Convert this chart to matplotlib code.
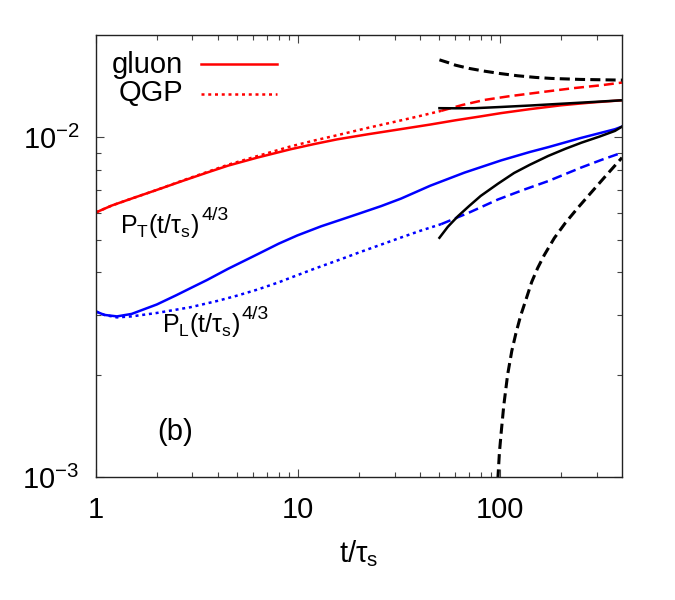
import numpy as np
import matplotlib
matplotlib.use("Agg")
import matplotlib.pyplot as plt
import matplotlib.transforms as mtransforms
from matplotlib.ticker import FixedLocator, FixedFormatter, NullFormatter

plt.rcParams['font.family'] = ['Liberation Sans', 'DejaVu Sans']
plt.rcParams['mathtext.fontset'] = 'custom'
plt.rcParams['mathtext.rm'] = 'Liberation Sans'
plt.rcParams['mathtext.it'] = 'Liberation Sans'
plt.rcParams['mathtext.default'] = 'regular'

# ---- data (t/tau_s, pressure * (t/tau_s)^{4/3}) ----
t_gluon_T = [1, 1.2, 1.5, 2, 2.7, 3.54, 4.5, 6.27, 9.18, 12, 15.6, 22, 32,
             45, 60, 80, 101, 140, 200, 280, 400]
P_gluon_T = [6.01e-3, 6.3e-3, 6.6e-3, 7.0e-3, 7.45e-3, 7.87e-3, 8.25e-3,
             8.71e-3, 9.22e-3, 9.55e-3, 9.86e-3, 10.2e-3, 10.56e-3, 10.9e-3,
             11.22e-3, 11.52e-3, 11.78e-3, 12.1e-3, 12.42e-3, 12.65e-3, 12.85e-3]

t_qgp_T = [1, 1.2, 1.5, 2, 2.7, 3.54, 4.5, 6.27, 9.18, 12, 15.6, 22, 32, 40, 51]
P_qgp_T = [6.01e-3, 6.3e-3, 6.6e-3, 7.0e-3, 7.47e-3, 7.9e-3, 8.3e-3, 8.8e-3,
           9.4e-3, 9.78e-3, 10.14e-3, 10.65e-3, 11.2e-3, 11.55e-3, 11.96e-3]

t_hydro_T = [51, 65, 83.6, 110, 163, 230, 317, 400]
P_hydro_T = [11.96e-3, 12.45e-3, 12.88e-3, 13.2e-3, 13.6e-3, 13.95e-3,
             14.23e-3, 14.49e-3]

t_gluon_L = [1, 1.1, 1.27, 1.5, 2, 2.5, 3, 3.54, 4.5, 6.27, 8, 9.9, 13, 16,
             20, 25.7, 32.3, 45, 66.5, 101, 140, 172.5, 250, 369, 400]
P_gluon_L = [3.07e-3, 3.0e-3, 2.97e-3, 3.02e-3, 3.22e-3, 3.43e-3, 3.62e-3,
             3.8e-3, 4.1e-3, 4.52e-3, 4.86e-3, 5.14e-3, 5.47e-3, 5.7e-3,
             5.96e-3, 6.27e-3, 6.6e-3, 7.2e-3, 7.87e-3, 8.55e-3, 9.05e-3,
             9.35e-3, 9.95e-3, 10.56e-3, 10.75e-3]

t_qgp_L = [1, 1.1, 1.27, 1.5, 2, 2.93, 4, 5, 6.27, 8, 9.18, 12, 16, 20, 25.7,
           32.3, 40, 51]
P_qgp_L = [3.07e-3, 3.0e-3, 2.95e-3, 2.97e-3, 3.04e-3, 3.16e-3, 3.3e-3,
           3.42e-3, 3.56e-3, 3.74e-3, 3.86e-3, 4.1e-3, 4.36e-3, 4.58e-3,
           4.83e-3, 5.07e-3, 5.3e-3, 5.55e-3]

t_hydro_L = [51, 70, 97.4, 130, 172.5, 252, 320, 400]
P_hydro_L = [5.55e-3, 6.0e-3, 6.56e-3, 7.0e-3, 7.43e-3, 8.15e-3, 8.6e-3, 9.01e-3]

# black reference curves (from t = 50)
t_blk_sol_T = [50, 60, 75, 101, 140, 200, 300, 400]
P_blk_sol_T = [12.18e-3, 12.17e-3, 12.18e-3, 12.28e-3, 12.4e-3, 12.55e-3,
               12.72e-3, 12.85e-3]
t_blk_dash_T = [50, 55, 60, 70, 83.6, 100, 122, 150, 179, 250, 400]
P_blk_dash_T = [16.9e-3, 16.6e-3, 16.3e-3, 15.95e-3, 15.65e-3, 15.4e-3,
                15.17e-3, 15.0e-3, 14.9e-3, 14.8e-3, 14.73e-3]
t_blk_sol_L = [50, 55, 61.6, 70, 80, 97.4, 117, 140, 172.5, 210, 252, 310,
               369, 400]
P_blk_sol_L = [5.06e-3, 5.45e-3, 5.85e-3, 6.27e-3, 6.72e-3, 7.3e-3, 7.85e-3,
               8.3e-3, 8.81e-3, 9.25e-3, 9.64e-3, 10.05e-3, 10.44e-3, 10.75e-3]
t_blk_dash_L = [95, 97.4, 99, 101, 104, 108.7, 114, 119.5, 126, 134, 143, 153,
                165, 185, 210, 242, 280, 330, 400]
P_blk_dash_L = [0.8e-3, 1.0e-3, 1.18e-3, 1.35e-3, 1.62e-3, 2.0e-3, 2.35e-3,
                2.65e-3, 2.98e-3, 3.33e-3, 3.75e-3, 4.12e-3, 4.5e-3, 5.05e-3,
                5.6e-3, 6.2e-3, 6.85e-3, 7.66e-3, 8.71e-3]

x_major = [1, 10, 100]
x_major_labels = ['1', '10', '100']
y_major = [1e-3, 1e-2]
y_major_labels = [r'10$^{-3}$', r'10$^{-2}$']

# ---- figure ----
fig = plt.figure(figsize=(6.75, 6.0), dpi=100)
ax = fig.add_axes([96/675, (600-477)/600, 526/675, 442/600])

lw = 1.8
lwd = 2.2
dot = (0, (1.2, 1.5))
dash = (0, (4.0, 2.0))
dashk = (0, (3.3, 1.7))

ax.plot(t_gluon_T, P_gluon_T, color='#ff0000', lw=lw)
ax.plot(t_qgp_T, P_qgp_T, color='#ff0000', lw=lw, ls=dot)
ax.plot(t_hydro_T, P_hydro_T, color='#ff0000', lw=lw, ls=dash)
ax.plot(t_gluon_L, P_gluon_L, color='#0000ff', lw=lw)
ax.plot(t_qgp_L, P_qgp_L, color='#0000ff', lw=lw, ls=dot)
ax.plot(t_hydro_L, P_hydro_L, color='#0000ff', lw=lw, ls=dash)
ax.plot(t_blk_sol_T, P_blk_sol_T, color='black', lw=lw)
ax.plot(t_blk_dash_T, P_blk_dash_T, color='black', lw=lwd, ls=dashk)
ax.plot(t_blk_sol_L, P_blk_sol_L, color='black', lw=lw)
ax.plot(t_blk_dash_L, P_blk_dash_L, color='black', lw=lwd, ls=dashk)

ax.set_xscale('log')
ax.set_yscale('log')
ax.set_xlim(1, 400)
ax.set_ylim(1e-3, 2e-2)

ax.xaxis.set_major_locator(FixedLocator(x_major))
ax.xaxis.set_major_formatter(FixedFormatter(x_major_labels))
ax.xaxis.set_minor_locator(FixedLocator([2, 3, 4, 5, 6, 7, 8, 9, 20, 30, 40, 50,
                                          60, 70, 80, 90, 200, 300]))
ax.xaxis.set_minor_formatter(NullFormatter())
ax.yaxis.set_major_locator(FixedLocator(y_major))
ax.yaxis.set_major_formatter(FixedFormatter(y_major_labels))
ax.yaxis.set_minor_locator(FixedLocator([2e-3, 3e-3, 4e-3, 5e-3, 6e-3, 7e-3,
                                          8e-3, 9e-3]))
ax.yaxis.set_minor_formatter(NullFormatter())

ax.tick_params(which='both', direction='in', top=True, right=True,
               color='#444444', width=0.8, labelsize=21)
ax.tick_params(which='major', length=6)
ax.tick_params(which='minor', length=3.5)
ax.tick_params(axis='x', which='major', pad=14)
ax.tick_params(axis='y', which='major', pad=12)
for s in ax.spines.values():
    s.set_linewidth(1.0)
    s.set_color('#222222')

ax.set_xlabel(r't/$\tau_s$', fontsize=21, labelpad=10)

# key
tr = ax.transAxes
ax.text(0.165, 0.932, 'gluon', transform=tr, fontsize=21, ha='right', va='center')
ax.text(0.165, 0.868, 'QGP', transform=tr, fontsize=21, ha='right', va='center')
ax.plot([0.20, 0.344], [0.934, 0.934], transform=tr, color='#ff0000', lw=lw)
ax.plot([0.20, 0.344], [0.866, 0.866], transform=tr, color='#ff0000', lw=lw, ls=dot)

# curve labels with larger (gnuplot-like) superscripts
fig.canvas.draw()
renderer = fig.canvas.get_renderer()
for (x0, y0, base) in [(0.046, 0.552, r'P$_T$(t/$\tau_s$)'),
                       (0.125, 0.328, r'P$_L$(t/$\tau_s$)')]:
    tb = ax.text(x0, y0, base, transform=tr, fontsize=18, ha='left',
                 va='baseline')
    w = tb.get_window_extent(renderer=renderer).width
    off = mtransforms.offset_copy(tr, fig=fig, x=w + 2, y=13, units='dots')
    ax.text(x0, y0, '4/3', transform=off, fontsize=14, ha='left', va='baseline')

ax.text(0.116, 0.102, '(b)', transform=tr, fontsize=21, ha='left', va='center')

fig.savefig('out.png', dpi=100)
